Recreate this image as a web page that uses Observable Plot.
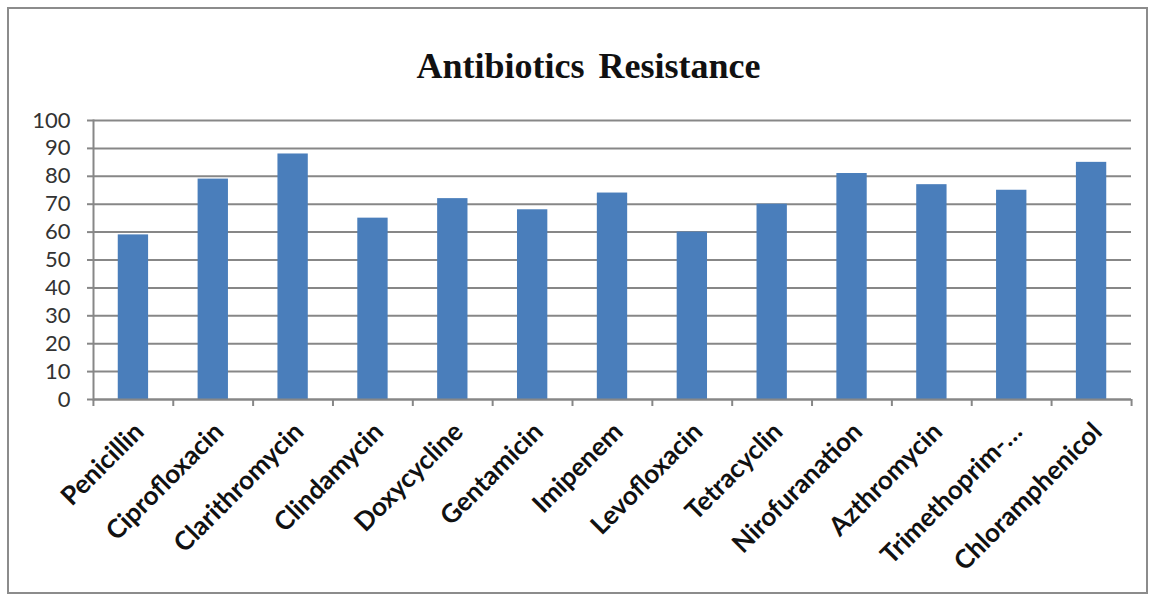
<!DOCTYPE html>
<html><head><meta charset="utf-8">
<script src="https://cdn.jsdelivr.net/npm/d3@7"></script>
<script src="https://cdn.jsdelivr.net/npm/@observablehq/plot@0.6"></script>
<style>
body{margin:0;background:#fff;}
#wrap{position:relative;width:1155px;height:595px;overflow:hidden;}
#border{position:absolute;left:7px;top:7px;width:1141px;height:587px;border:2px solid #8c8c8c;box-sizing:border-box;pointer-events:none;}
#title{position:absolute;left:0;width:1177px;top:45px;line-height:1;text-align:center;font:bold 36px "Liberation Serif",serif;word-spacing:5px;color:#111;}
#chart{position:absolute;left:0;top:0;}
</style></head>
<body>
<div id="wrap"><div id="chart"></div><div id="title">Antibiotics Resistance</div><div id="border"></div></div>
<script>
const categories = ["Penicillin","Ciprofloxacin","Clarithromycin","Clindamycin","Doxycycline","Gentamicin","Imipenem","Levofloxacin","Tetracyclin","Nirofuranation","Azthromycin","Trimethoprim-…","Chloramphenicol"];
const values = [59,79,88,65,72,68,74,60,70,81,77,75,85];
const yTicks = [0,10,20,30,40,50,60,70,80,90,100];

const data = categories.map((name, i) => ({name, value: values[i]}));
const gray = "#878787";

const plot = Plot.plot({
  width: 1155,
  height: 595,
  marginLeft: 93,
  marginRight: 24,
  marginTop: 120,
  marginBottom: 196,
  style: {background: "transparent", overflow: "visible"},
  x: {domain: categories, paddingInner: 0.62, paddingOuter: 0.31, round: false, label: null},
  y: {domain: [0, 100], label: null},
  marks: [
    Plot.gridY(yTicks, {stroke: gray, strokeOpacity: 1, strokeWidth: 2}),
    Plot.barY(data, {x: "name", y: "value", fill: "#4a7ebb"}),
    Plot.frame({anchor: "left", stroke: gray, strokeWidth: 2}),
    Plot.ruleY([0], {stroke: gray, strokeWidth: 2}),
    Plot.ruleX(categories, {x: d => d, y1: 0, y2: 0, dx: -40, insetBottom: -7, stroke: gray, strokeWidth: 2}),
    Plot.ruleX(categories.slice(-1), {x: d => d, y1: 0, y2: 0, dx: 40, insetBottom: -7, stroke: gray, strokeWidth: 2}),
    Plot.axisY(yTicks, {tickSize: 6, tickPadding: 17, fontSize: 22, fontFamily: "Lato", stroke: gray, strokeWidth: 2, fill: "#333", label: null}),
    Plot.axisX({tickSize: 0, tickPadding: 28, dx: 6, tickRotate: -45, fontSize: 26, fontWeight: "bold", fontFamily: "Lato", fill: "#111", label: null})
  ]
});
document.getElementById("chart").appendChild(plot);
</script>
</body></html>
